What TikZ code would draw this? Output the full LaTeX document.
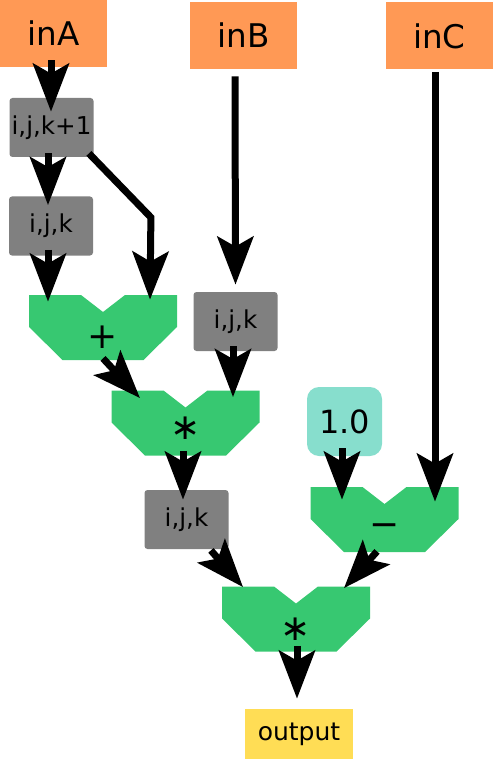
\documentclass[tikz,border=0pt]{standalone}
\usepackage{fontspec}
\setmainfont{DejaVu Sans}
\usetikzlibrary{arrows.meta}

\definecolor{inorange}{HTML}{FF9955}
\definecolor{idxgray}{HTML}{808080}
\definecolor{opgreen}{HTML}{37C871}
\definecolor{constteal}{HTML}{87DECD}
\definecolor{outyellow}{HTML}{FFDD55}

\tikzset{
  inbox/.style={fill=inorange, minimum width=53.5pt, minimum height=33.5pt,
    inner sep=0pt, font=\fontsize{16.3}{19}\selectfont},
  idxbox/.style={fill=idxgray, rounded corners=1.5pt, minimum width=42pt,
    minimum height=29.5pt, inner sep=0pt, font=\fontsize{12.3}{15}\selectfont},
  constbox/.style={fill=constteal, rounded corners=6pt, minimum width=37.5pt,
    minimum height=34.5pt, inner sep=0pt, font=\fontsize{16}{19}\selectfont},
  outbox/.style={fill=outyellow, minimum width=54pt, minimum height=25pt,
    inner sep=0pt, font=\fontsize{12.5}{15}\selectfont},
  opnode/.style={minimum width=74pt, minimum height=32.5pt, inner sep=0pt,
    text height=16.7pt, text depth=0pt, font=\fontsize{18}{21}\selectfont,
    path picture={\fill[opgreen] (path picture bounding box.north west)
      -- ++(26pt,0pt) -- ++(11pt,-8.5pt) -- ++(11pt,8.5pt) -- ++(26pt,0pt)
      -- ++(0pt,-16pt) -- ++(-16.75pt,-16.5pt) -- ++(-40.5pt,0pt)
      -- ++(-16.75pt,16.5pt) -- cycle;}},
  arr/.style={->, line width=3.5pt}
}

\begin{document}
\begin{tikzpicture}[x=0.5pt, y=-0.5pt, >={Stealth[length=24pt,width=18pt,inset=5pt]}]
  \useasboundingbox (0,0) rectangle (494,759);

  % inputs
  \node[inbox] (inA) at (53.5,33.5) {inA};
  \node[inbox] (inB) at (243.5,35.5) {inB};
  \node[inbox] (inC) at (439.5,36) {inC};

  % index offsets
  \node[idxbox] (ijk1) at (51.5,127.5) {i,j,k+1};
  \node[idxbox] (ijkA) at (51,226) {i,j,k};
  \node[idxbox] (ijkB) at (235.5,321.5) {i,j,k};
  \node[idxbox] (ijkC) at (186.5,519.5) {i,j,k};

  % operations
  \node[opnode, text height=21pt] (plus) at (103,327.5) {+};
  \node[opnode] (times1) at (185.5,423) {∗};
  \node[constbox] (one) at (344.5,421.5) {1.0};
  \node[opnode] (minus) at (384.5,519.5) {−};
  \node[opnode, text height=21pt] (times2) at (296,619) {∗};

  \node[outbox] (out) at (299,734) {output};

  % connectors
  \draw[arr] ([xshift=-1.25pt,yshift=3.5pt]inA.south) -- ([xshift=-0.25pt,yshift=-7pt]ijk1.north);
  \draw[arr] ([xshift=-1.75pt,yshift=2pt]ijk1.south) -- ([xshift=-1.5pt,yshift=-4.5pt]ijkA.north);
  \draw[arr] ([xshift=-2.5pt,yshift=2pt]ijk1.south east) -- ++(31pt,-32pt)
    -- ([xshift=23.5pt,yshift=-2.5pt]plus.north);
  \draw[arr] ([xshift=-1.5pt,yshift=3pt]ijkA.south) -- ([xshift=-27.5pt,yshift=-3.5pt]plus.north);
  \draw[arr] ([xshift=-4.25pt,yshift=-3.5pt]inB.south) -- ([yshift=3.5pt]ijkB.north);
  \draw[arr] ([xshift=-1.25pt,yshift=2.5pt]ijkB.south) -- ([xshift=23.75pt,yshift=-3.5pt]times1.north);
  \draw[arr] ([yshift=1pt]plus.south) -- ([xshift=-22.75pt,yshift=-4pt]times1.north);
  \draw[arr] ([xshift=-1.25pt,yshift=2.5pt]times1.south) -- ([xshift=-1.75pt,yshift=-5pt]ijkC.north);
  \draw[arr] ([xshift=-9pt,yshift=-0.5pt]ijkC.south east) -- ([xshift=-26.5pt,yshift=-0.5pt]times2.north);
  \draw[arr] ([xshift=-1.25pt,yshift=4pt]one.south) -- ([xshift=-21.25pt,yshift=-6.5pt]minus.north);
  \draw[arr] ([xshift=-2.25pt,yshift=-1pt]inC.south) -- ([xshift=25.25pt,yshift=-7.5pt]minus.north);
  \draw[arr] ([xshift=-3.75pt,yshift=0.5pt]minus.south) -- ([xshift=24pt,yshift=-1pt]times2.north);
  \draw[arr] ([xshift=0.5pt,yshift=3pt]times2.south) -- ([xshift=-1pt,yshift=5pt]out.north);
\end{tikzpicture}
\end{document}
